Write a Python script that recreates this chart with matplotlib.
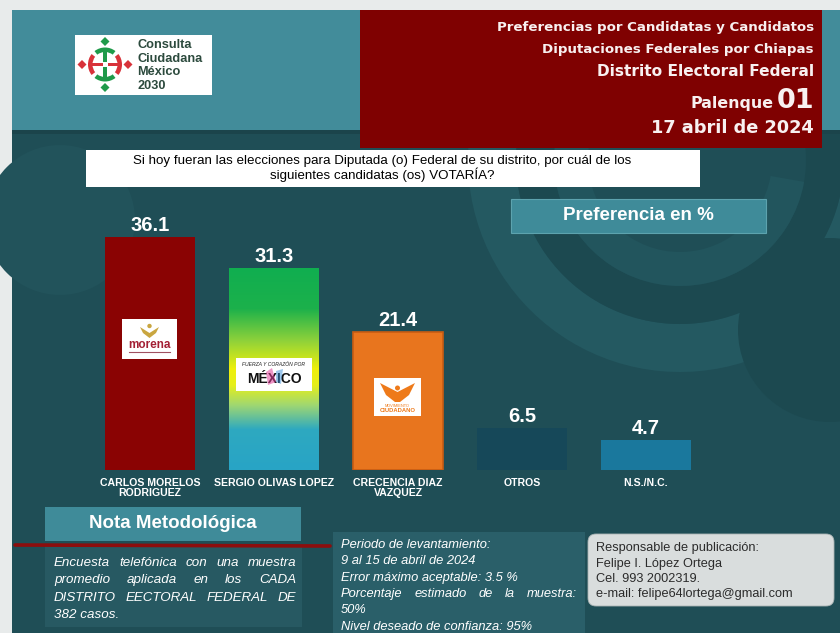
import numpy as np
import matplotlib
matplotlib.use("Agg")
import matplotlib.pyplot as plt
from matplotlib.patches import Rectangle, FancyBboxPatch, Wedge, Circle, Polygon
from matplotlib.colors import LinearSegmentedColormap

# ---------------- data ----------------
candidates = ["CARLOS MORELOS\nRODRIGUEZ", "SERGIO OLIVAS LOPEZ",
              "CRECENCIA DIAZ\nVAZQUEZ", "OTROS", "N.S./N.C."]
values = [36.1, 31.3, 21.4, 6.5, 4.7]
bar_colors = ["#8a0303", "#1fb14c", "#e8751e", "#164859", "#1a789d"]
gradient_stops = [(0.0, "#10ae50"), (0.2, "#1cb14b"), (0.36, "#8fd23a"), (0.5, "#eef00c"),
                  (0.58, "#e6ef1a"), (0.68, "#9fd772"), (0.8, "#2ea9c0"), (1.0, "#28a4c6")]

header_lines = ["Preferencias por Candidatas y Candidatos",
                "Diputaciones Federales por Chiapas",
                "Distrito Electoral Federal"]
district_name = "Palenque"
district_num = "01"
date_text = "17 abril de 2024"
question = ("Si hoy fueran las elecciones para Diputada (o) Federal de su distrito, por cuál de los\n"
            "siguientes candidatas (os) VOTARÍA?")
pref_title = "Preferencia en %"
nota_title = "Nota Metodológica"
nota_lines = ["Encuesta telefónica con una muestra",
              "promedio aplicada en los CADA",
              "DISTRITO EECTORAL FEDERAL DE",
              "382 casos."]
periodo_lines = ["Periodo de levantamiento:",
                 "9 al 15 de abril de 2024",
                 "Error máximo aceptable: 3.5 %",
                 "Porcentaje estimado de la muestra:",
                 "50%",
                 "Nivel deseado de confianza: 95%"]
resp_lines = ["Responsable de publicación:",
              "Felipe I. López Ortega",
              "Cel. 993 2002319.",
              "e-mail: felipe64lortega@gmail.com"]
logo_lines = ["Consulta", "Ciudadana", "México", "2030"]

ARIAL = ["Liberation Sans", "DejaVu Sans"]
TAHOMA = ["DejaVu Sans"]

W, H = 840, 633
fig = plt.figure(figsize=(8.4, 6.33), dpi=100)
fig.patch.set_facecolor("#e8ebeb")

bg = fig.add_axes([0, 0, 1, 1])
bg.set_xlim(0, W)
bg.set_ylim(H, 0)
bg.axis("off")

DARK = "#1f4e56"
LIGHT = "#245961"
DEEP = "#1c4950"
# main dark panel
bg.add_patch(Rectangle((12, 10), W - 12, H - 10, facecolor=DARK, edgecolor="none", zorder=0))
# decorative watermark shapes (subtle)
bg.add_patch(Circle((60, 220), 75, facecolor="#22535b", edgecolor="none", zorder=0.4))
bg.add_patch(Wedge((680, 160), 212, -10, 200, width=48, facecolor=LIGHT, edgecolor="none", zorder=0.5))
bg.add_patch(Wedge((680, 160), 164, -20, 200, width=38, facecolor=DEEP, edgecolor="none", zorder=0.5))
bg.add_patch(Wedge((680, 160), 126, 10, 190, width=34, facecolor="#22555d", edgecolor="none", zorder=0.5))
bg.add_patch(Circle((830, 330), 92, facecolor="#1c4950", edgecolor="none", zorder=0.6))
# header teal band
bg.add_patch(Rectangle((12, 10), W - 12, 123, facecolor="#428c9a", edgecolor="none", zorder=1))
bg.add_patch(Rectangle((12, 130), W - 12, 4, facecolor="#1b444b", edgecolor="none", zorder=1.1))
# red title box
bg.add_patch(Rectangle((360, 10), 462, 138, facecolor="#7f0101", edgecolor="none", zorder=2))

# header text
tx = 814
hc = "#f8f0f0"
bg.text(tx, 27, header_lines[0], ha="right", va="center", fontsize=9.6, fontweight="bold",
        color=hc, family=TAHOMA, zorder=3)
bg.text(tx, 50, header_lines[1], ha="right", va="center", fontsize=9.6, fontweight="bold",
        color=hc, family=TAHOMA, zorder=3)
bg.text(tx, 72, header_lines[2], ha="right", va="center", fontsize=11.1, fontweight="bold",
        color=hc, family=TAHOMA, zorder=3)
bg.text(tx, 108, district_num, ha="right", va="baseline", fontsize=19.5, fontweight="bold",
        color=hc, family=TAHOMA, zorder=3)
bg.text(773, 108, district_name, ha="right", va="baseline", fontsize=11.4, fontweight="bold",
        color=hc, family=TAHOMA, zorder=3)
bg.text(tx, 128, date_text, ha="right", va="center", fontsize=12.8, fontweight="bold",
        color=hc, family=TAHOMA, zorder=3)

# logo
bg.add_patch(Rectangle((75, 35), 137, 60, facecolor="white", edgecolor="none", zorder=3))
cx, cy = 105, 64.5
green, red = "#1f9a4a", "#d8323a"
for (dx, dy, c) in [(0, -23, green), (0, 23, green), (-23, 0, red), (23, 0, red)]:
    bg.add_patch(Polygon([(cx + dx, cy + dy - 4.5), (cx + dx + 4.5, cy + dy), (cx + dx, cy + dy + 4.5),
                          (cx + dx - 4.5, cy + dy)], closed=True, facecolor=c, edgecolor="none", zorder=4))
for ang, c in [(0, red), (90, green), (180, red), (270, green)]:
    bg.add_patch(Wedge((cx, cy), 17, ang - 38, ang + 38, width=4.5, facecolor=c, edgecolor="none", zorder=4))
bg.add_patch(Rectangle((cx - 1.8, cy - 15), 3.6, 30, facecolor=green, edgecolor="none", zorder=4))
bg.add_patch(Rectangle((cx - 15, cy - 1.8), 30, 3.6, facecolor=red, edgecolor="none", zorder=4))
bg.add_patch(Rectangle((cx - 2.5, cy - 2.5), 5, 5, facecolor="white", edgecolor="none", zorder=4.1))
for k, s in enumerate(logo_lines):
    bg.text(137, 45 + k * 13.6, s, ha="left", va="center", fontsize=9.2, fontweight="bold",
            color="#2c4a3d", family=ARIAL, zorder=4)

# question box
bg.add_patch(Rectangle((86, 150), 614, 37, facecolor="white", edgecolor="none", zorder=3))
bg.text(382, 168.5, question, ha="center", va="center", fontsize=9.6, color="black",
        family=ARIAL, linespacing=1.0, zorder=4)

# preferencia box
bg.add_patch(Rectangle((511, 199), 255, 34, facecolor="#3f8b99", edgecolor="#5da3ae", lw=0.8, zorder=3))
bg.text(638, 216, pref_title, ha="center", va="center", fontsize=13.5, fontweight="bold",
        color="white", family=ARIAL, zorder=4)

# ---------------- bar chart ----------------
ax = fig.add_axes([88 / W, (H - 470) / H, 620 / W, 270 / H])
ax.set_facecolor("none")
x = np.arange(len(values))
bw = 0.72
bars = ax.bar(x, values, width=bw, color=bar_colors, edgecolor="none", zorder=2)
bars[2].set_edgecolor("#c85c12")
bars[2].set_linewidth(1.2)
# gradient on second bar
cmap = LinearSegmentedColormap.from_list("g", gradient_stops)
grad = np.linspace(0, 1, 256).reshape(-1, 1)
im = ax.imshow(grad, cmap=cmap, aspect="auto", origin="upper",
               extent=[x[1] - bw / 2, x[1] + bw / 2, 0, values[1]], zorder=2.5)
im.set_clip_path(bars[1])
ax.set_xlim(-0.5, 4.5)
ax.set_ylim(0, 270 / 6.45)

for xi, v in zip(x, values):
    ax.annotate(f"{v}", (xi, v), xytext=(0, 1.2), textcoords="offset points", ha="center",
                va="bottom", fontsize=14.5, fontweight="bold", color="white", family=ARIAL)

ax.set_xticks(x)
ax.set_xticklabels(candidates, fontsize=7.6, fontweight="bold", color="white",
                   family=ARIAL, linespacing=0.95)
ax.tick_params(axis="x", length=0, pad=6)
ax.set_yticks([])
for s in ax.spines.values():
    s.set_visible(False)

# overlay for party logos
top = fig.add_axes([0, 0, 1, 1])
top.set_xlim(0, W)
top.set_ylim(H, 0)
top.axis("off")
top.patch.set_alpha(0)

# morena
top.add_patch(Rectangle((122, 319), 55, 40, facecolor="white", edgecolor="none", zorder=5))
top.add_patch(Polygon([(140, 327), (149.5, 333), (159, 327), (156, 333), (149.5, 338), (143, 333)],
                      closed=True, facecolor="#c9a640", edgecolor="none", zorder=6))
top.add_patch(Circle((149.5, 326), 2.2, facecolor="#c9a640", edgecolor="none", zorder=6))
top.text(149.5, 345, "morena", ha="center", va="center", fontsize=8.5, fontweight="bold",
         color="#a31f34", family=ARIAL, zorder=6)
top.plot([129, 170], [352, 352], color="#a05060", lw=0.8, zorder=6)
# fuerza y corazon por mexico
top.add_patch(Rectangle((236, 358), 76, 33, facecolor="white", edgecolor="none", zorder=5))
top.text(274, 365, "FUERZA Y CORAZÓN POR", ha="center", va="center", fontsize=3.6,
         color="#222222", family=ARIAL, style="italic", zorder=6)
top.text(274, 379, "MÉXICO", ha="center", va="center", fontsize=10, fontweight="bold",
         color="#111111", family=ARIAL, zorder=6)
top.add_patch(Polygon([(266, 372), (272, 368), (276, 382), (268, 385)], closed=True,
                      facecolor="#e0409a", alpha=0.55, edgecolor="none", zorder=6.5))
top.add_patch(Polygon([(276, 371), (283, 369), (281, 384), (276, 382)], closed=True,
                      facecolor="#3a8fd8", alpha=0.5, edgecolor="none", zorder=6.5))
# movimiento ciudadano
top.add_patch(Rectangle((374, 378), 47, 38, facecolor="white", edgecolor="none", zorder=5))
top.add_patch(Polygon([(380, 383), (397.5, 392), (415, 383), (409, 395), (400, 402), (395, 402), (386, 395)],
                      closed=True, facecolor="#ee7a1a", edgecolor="none", zorder=6))
top.add_patch(Circle((397.5, 388), 2.5, facecolor="#ee7a1a", edgecolor="none", zorder=6))
top.text(397.5, 406, "MOVIMIENTO", ha="center", va="center", fontsize=2.8, color="#ee7a1a",
         family=ARIAL, zorder=6)
top.text(397.5, 411, "CIUDADANO", ha="center", va="center", fontsize=4.2, fontweight="bold",
         color="#ee7a1a", family=ARIAL, zorder=6)

# ---------------- bottom notes ----------------
bg.add_patch(Rectangle((45, 507), 256, 34, facecolor="#3f8b99", edgecolor="none", zorder=3))
bg.text(173, 524, nota_title, ha="center", va="center", fontsize=13.5, fontweight="bold",
        color="white", family=ARIAL, zorder=4)
bg.add_patch(Rectangle((45, 545), 257, 82, facecolor="#275962", edgecolor="none", zorder=2))
bg.plot([15, 330], [545, 546], color="#8d0d0d", lw=2.6, solid_capstyle="round", zorder=4)
bg.add_patch(Rectangle((333, 532), 252, 101, facecolor="#2a5f69", edgecolor="none", zorder=2))
bg.add_patch(FancyBboxPatch((588, 534), 246, 72, boxstyle="round,pad=0,rounding_size=8",
                            facecolor="#d9dddd", edgecolor="#aab4b4", lw=0.6, zorder=3))

renderer = fig.canvas.get_renderer()


def justified(lines, x0, x1, y0, dy, fs, color, rows_j, style="italic"):
    for k, line in enumerate(lines):
        y = y0 + k * dy
        words = line.split()
        if not rows_j[k] or len(words) == 1:
            bg.text(x0, y, line, ha="left", va="center", fontsize=fs, color=color,
                    style=style, family=ARIAL, zorder=5)
            continue
        objs = [bg.text(0, y, w_, ha="left", va="center", fontsize=fs, color=color,
                        style=style, family=ARIAL, zorder=5) for w_ in words]
        widths = [o.get_window_extent(renderer).width for o in objs]
        gap = (x1 - x0 - sum(widths)) / (len(words) - 1)
        pos = x0
        for o, wd in zip(objs, widths):
            o.set_x(pos)
            pos += wd + gap


justified(nota_lines, 54, 296, 563, 17.3, 9.6, "white", [True, True, True, False])
justified(periodo_lines, 341, 577, 545, 16.3, 9.3, "white",
          [False, False, False, True, False, False])
for k, s in enumerate(resp_lines):
    bg.text(596, 548 + k * 15.5, s, ha="left", va="center", fontsize=9.2, color="#2b2b2b",
            family=ARIAL, zorder=5)

fig.savefig("out.png", dpi=100, facecolor=fig.get_facecolor())
